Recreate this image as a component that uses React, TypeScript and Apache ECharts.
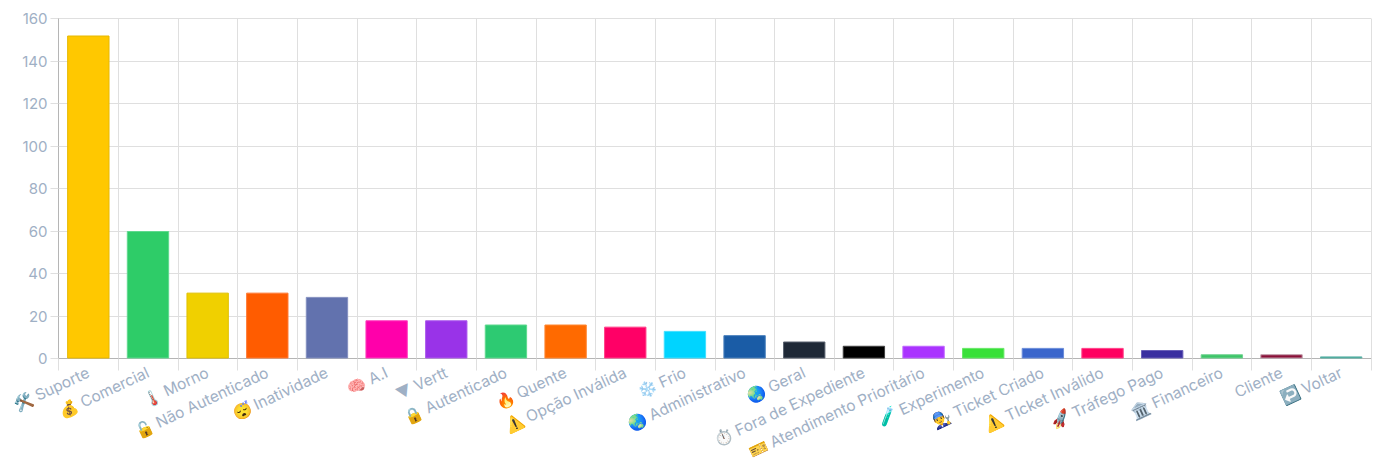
import React, { useEffect, useRef } from "react";
import * as echarts from "echarts";

const categories = ["🛠️ Suporte","💰 Comercial","🌡️ Morno","🔓 Não Autenticado","😴 Inatividade","🧠 A.I","▼ Vertt","🔒 Autenticado","🔥 Quente","⚠️ Opção Inválida","❄️ Frio","🌏 Administrativo","🌏 Geral","⏱️ Fora de Expediente","🎫 Atendimento Prioritário","🧪 Experimento","👨‍🔧 Ticket Criado","⚠️ TIcket Inválido","🚀 Tráfego Pago","🏛️ Financeiro","Cliente","↩️ Voltar"];
const values = [152,60,31,31,29,18,18,16,16,15,13,11,8,6,6,5,5,5,4,2,2,1];
const fills = ["#ffc800","#2ecc68","#f0d000","#ff5c00","#6272ae","#ff00aa","#9933e8","#2dca72","#ff6a00","#ff0066","#00d4ff","#1a5ca6","#1f2937","#000000","#aa33ff","#39e039","#3b66cc","#ff0060","#3a2fa0","#3dc468","#8a1038","#2f9e8f"];
const borders = ["#e6b800","#5fd98e","#e0c000","#ff7a33","#8490c0","#ff40bf","#ad5cec","#5fd98e","#ff8833","#ff4088","#40dfff","#4a80bc","#5a6270","#404040","#bf66ff","#66e866","#6a8cd9","#ff4088","#6a60b8","#70d390","#c09aa8","#60b4a8"];
const yMax = 160;
const yStep = 20;
const labelFont = "Inter, 'Noto Sans', sans-serif";

export default function App() {
  const ref = useRef<HTMLDivElement>(null);
  useEffect(() => {
    const chart = echarts.init(ref.current!, undefined, { renderer: "svg" });
    chart.setOption({
      animation: false,
      backgroundColor: "#ffffff",
      grid: { left: 58.5, right: 20, top: 18.5, bottom: 116.5, containLabel: false },
      xAxis: {
        type: "category",
        data: categories,
        axisLine: { lineStyle: { color: "#b5b5b5", width: 1 } },
        axisTick: { show: true, alignWithLabel: false, length: 12, lineStyle: { color: "#dfdfdf" } },
        splitLine: { show: true, lineStyle: { color: "#dfdfdf", width: 1 } },
        axisLabel: {
          interval: 0,
          rotate: 25,
          margin: 13,
          color: "#9fb0c5",
          fontFamily: labelFont,
          fontSize: 15.5,
        },
      },
      yAxis: {
        type: "value",
        min: 0,
        max: yMax,
        interval: yStep,
        axisLine: { show: true, lineStyle: { color: "#b5b5b5", width: 1 } },
        axisTick: { show: true, length: 8, lineStyle: { color: "#dfdfdf" } },
        splitLine: { show: true, lineStyle: { color: "#dfdfdf", width: 1 } },
        axisLabel: {
          margin: 11,
          color: "#9fb0c5",
          fontFamily: labelFont,
          fontSize: 15,
        },
      },
      series: [
        {
          type: "bar",
          barWidth: "71%",
          data: values.map((v, i) => ({
            value: v,
            itemStyle: { color: fills[i], borderColor: borders[i], borderWidth: 1 },
          })),
        },
      ],
    });
    return () => chart.dispose();
  }, []);
  return <div ref={ref} style={{ position: "fixed", left: 0, top: 0, width: 1391, height: 475 }} />;
}
